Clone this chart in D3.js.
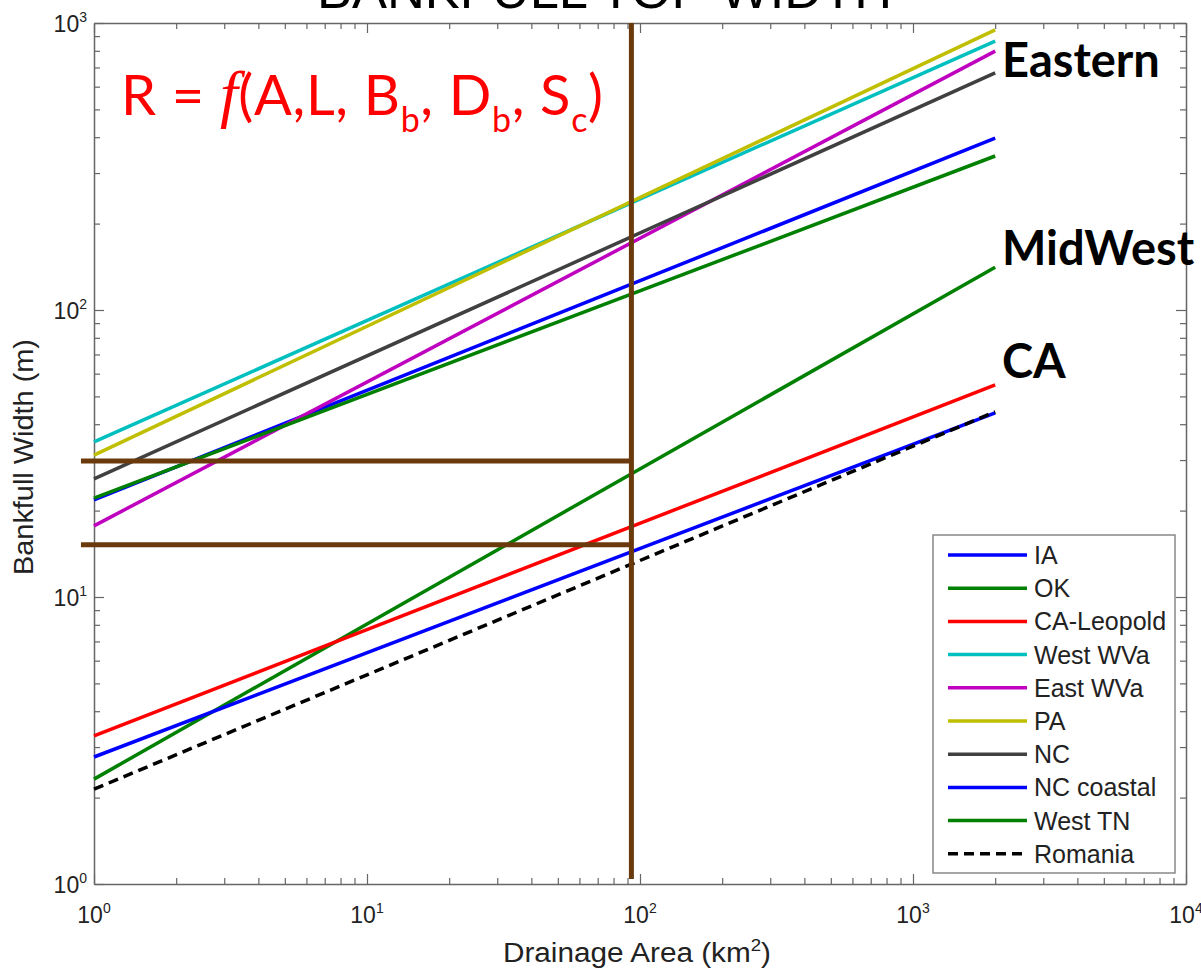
<!DOCTYPE html>
<html>
<head>
<meta charset="utf-8">
<script src="https://cdn.jsdelivr.net/npm/d3@7"></script>
<style>
    body { margin: 0; background: #fff; }
    svg { display: block; }
</style>
</head>
<body>
<script>
// regional curves, drawn as straight power laws between the two ends
const seriesNames = ["IA", "OK", "CA-Leopold", "West WVa", "East WVa", "PA", "NC", "NC coastal", "West TN", "Romania"];
const seriesColors = ["#0000ff", "#008000", "#ff0000", "#00bfbf", "#bf00bf", "#bfbf00", "#404040", "#0000ff", "#008000", "#000000"];
const areaEnds = [1, 2000];              // km2
const widthAtStart = [21.8, 2.32, 3.28, 34.7, 17.7, 31.2, 25.8, 2.77, 22.1, 2.14];   // m at 1 km2
const widthAtEnd = [397, 141, 54.8, 865, 798, 946, 670, 43.8, 344, 44.2];           // m at 2000 km2

// brown reference lines drawn over the chart
const refArea = 93;
const refWidths = [29.8, 15.2];

const xDecades = [1, 10, 100, 1000, 10000];
const yDecades = [1, 10, 100, 1000];
const regionLabels = ["Eastern", "MidWest", "CA"];

const width = 1201, height = 972;
const plot = { left: 94, right: 1186, top: 23, bottom: 884 };
const brown = "#6a3a0c";
const axisColor = "#666";

const svg = d3.select("body").append("svg")
    .attr("width", width)
    .attr("height", height);

const x = d3.scaleLog().domain([1, 1e4]).range([plot.left, plot.right]);
const y = d3.scaleLog().domain([1, 1e3]).range([plot.bottom, plot.top]);

function minorTicks(decades) {
    const ticks = [];
    decades.forEach(function (d, i) {
        if (i === decades.length - 1) {
            ticks.push(d);
            return;
        }
        for (let k = 1; k < 10; k++) {
            ticks.push(d * k);
        }
    });
    return ticks;
}
const isMajor = d => Math.abs(Math.log10(d) - Math.round(Math.log10(d))) < 1e-9;

const xTicks = minorTicks(xDecades);
const yTicks = minorTicks(yDecades);

// title (mostly cut off at the top of the picture)
svg.append("text")
    .attr("x", 317)
    .attr("y", 8)
    .attr("textLength", 575)
    .attr("lengthAdjust", "spacingAndGlyphs")
    .style("font-family", "'Liberation Sans', Arial, sans-serif")
    .style("font-size", "52px")
    .style("fill", "#000")
    .text("BANKFULL TOP WIDTH");

// axes, ticks pointing inward on all four sides
function styleAxis(g, sign, attr) {
    g.select(".domain").attr("stroke", axisColor).attr("stroke-width", 1.5);
    g.selectAll(".tick line")
        .attr("stroke", axisColor)
        .attr("stroke-width", 1.2)
        .attr(attr, d => sign * (isMajor(d) ? 10 : 6));
    g.selectAll(".tick text").remove();
}

const gBottom = svg.append("g")
    .attr("transform", `translate(0,${plot.bottom})`)
    .call(d3.axisBottom(x).tickValues(xTicks).tickSizeInner(-10).tickSizeOuter(0).tickFormat(""));
styleAxis(gBottom, -1, "y2");

const gTop = svg.append("g")
    .attr("transform", `translate(0,${plot.top})`)
    .call(d3.axisTop(x).tickValues(xTicks).tickSizeInner(-10).tickSizeOuter(0).tickFormat(""));
styleAxis(gTop, 1, "y2");

const gLeft = svg.append("g")
    .attr("transform", `translate(${plot.left},0)`)
    .call(d3.axisLeft(y).tickValues(yTicks).tickSizeInner(-10).tickSizeOuter(0).tickFormat(""));
styleAxis(gLeft, 1, "x2");

const gRight = svg.append("g")
    .attr("transform", `translate(${plot.right},0)`)
    .call(d3.axisRight(y).tickValues(yTicks).tickSizeInner(-10).tickSizeOuter(0).tickFormat(""));
styleAxis(gRight, -1, "x2");

// tick labels 10^n
const tickFont = "'Liberation Sans', Arial, sans-serif";

function powerLabel(sel) {
    sel.append("tspan").text("10");
    sel.append("tspan")
        .attr("dy", -10)
        .style("font-size", "14px")
        .text(d => Math.round(Math.log10(d)));
}

svg.append("g").selectAll("text")
    .data(xDecades)
    .join("text")
    .attr("x", d => x(d))
    .attr("y", plot.bottom + 39)
    .attr("text-anchor", "middle")
    .style("font-family", tickFont)
    .style("font-size", "23px")
    .style("fill", "#222")
    .call(powerLabel);

svg.append("g").selectAll("text")
    .data(yDecades)
    .join("text")
    .attr("x", plot.left - 7)
    .attr("y", d => y(d) + 9)
    .attr("text-anchor", "end")
    .style("font-family", tickFont)
    .style("font-size", "23px")
    .style("fill", "#222")
    .call(powerLabel);

// axis labels
const xLabel = svg.append("text")
    .attr("x", 637)
    .attr("y", 962)
    .attr("text-anchor", "middle")
    .attr("textLength", 268)
    .attr("lengthAdjust", "spacingAndGlyphs")
    .style("font-family", tickFont)
    .style("font-size", "27px")
    .style("fill", "#222");
xLabel.append("tspan").text("Drainage Area (km");
xLabel.append("tspan").attr("dy", -11).style("font-size", "17px").text("2");
xLabel.append("tspan").attr("dy", 11).text(")");

svg.append("text")
    .attr("transform", "translate(33,457) rotate(-90)")
    .attr("text-anchor", "middle")
    .attr("textLength", 236)
    .attr("lengthAdjust", "spacingAndGlyphs")
    .style("font-family", tickFont)
    .style("font-size", "27px")
    .style("fill", "#222")
    .text("Bankfull Width (m)");

// curves
const line = d3.line()
    .x(d => x(d[0]))
    .y(d => y(d[1]));

const series = seriesNames.map(function (name, i) {
    return {
        name: name,
        color: seriesColors[i],
        dashed: name === "Romania",
        points: [[areaEnds[0], widthAtStart[i]], [areaEnds[1], widthAtEnd[i]]]
    };
});

svg.append("g").selectAll("path")
    .data(series)
    .join("path")
    .attr("d", d => line(d.points))
    .attr("fill", "none")
    .attr("stroke", d => d.color)
    .attr("stroke-width", 3.5)
    .attr("stroke-dasharray", d => d.dashed ? "10,6" : null);

// brown reference lines
const refG = svg.append("g")
    .attr("stroke", brown)
    .attr("stroke-width", 5);

refG.append("line")
    .attr("x1", x(refArea))
    .attr("x2", x(refArea))
    .attr("y1", y(1000))
    .attr("y2", y(1.04));

refG.selectAll("line.h")
    .data(refWidths)
    .join("line")
    .classed("h", true)
    .attr("x1", x(0.896))
    .attr("x2", x(refArea))
    .attr("y1", d => y(d))
    .attr("y2", d => y(d));

// region labels
const regionFont = "Lato, 'Open Sans', sans-serif";
const regionY = [77, 265, 378];
svg.append("g").selectAll("text")
    .data(regionLabels)
    .join("text")
    .attr("x", 1002)
    .attr("y", (d, i) => regionY[i])
    .style("font-family", regionFont)
    .style("font-weight", "bold")
    .style("font-size", "47px")
    .style("fill", "#000")
    .text(d => d);

// formula
const formula = svg.append("text")
    .attr("x", 121)
    .attr("y", 115)
    .attr("textLength", 482)
    .attr("lengthAdjust", "spacing")
    .style("font-family", regionFont)
    .style("font-size", "56px")
    .style("fill", "#ff0000");
formula.append("tspan").text("R = ");
formula.append("tspan")
    .style("font-family", "'Liberation Serif', 'Times New Roman', serif")
    .style("font-style", "italic")
    .style("font-size", "64px")
    .text("f");
formula.append("tspan").text("(A,L, B");
formula.append("tspan").attr("dy", 17).style("font-size", "34px").text("b");
formula.append("tspan").attr("dy", -17).text(", D");
formula.append("tspan").attr("dy", 17).style("font-size", "34px").text("b");
formula.append("tspan").attr("dy", -17).text(", S");
formula.append("tspan").attr("dy", 17).style("font-size", "34px").text("c");
formula.append("tspan").attr("dy", -17).text(")");

// legend
const legend = svg.append("g")
    .attr("transform", "translate(933,535)");

legend.append("rect")
    .attr("width", 242)
    .attr("height", 338)
    .attr("fill", "#fff")
    .attr("stroke", "#888")
    .attr("stroke-width", 1.5);

const entries = legend.selectAll("g.entry")
    .data(series)
    .join("g")
    .classed("entry", true)
    .attr("transform", (d, i) => `translate(0,${20 + i * 33.2})`);

entries.append("line")
    .attr("x1", 15)
    .attr("x2", 94)
    .attr("stroke", d => d.color)
    .attr("stroke-width", 3.5)
    .attr("stroke-dasharray", d => d.dashed ? "10,6" : null);

entries.append("text")
    .attr("x", 101)
    .attr("dy", "0.36em")
    .style("font-family", tickFont)
    .style("font-size", "25px")
    .style("fill", "#222")
    .text(d => d.name);
</script>
</body>
</html>
